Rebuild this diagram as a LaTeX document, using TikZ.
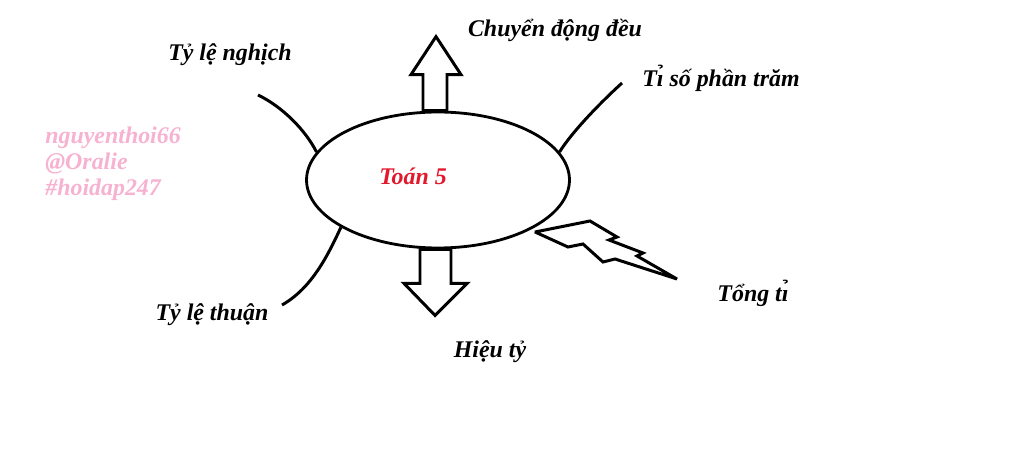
\documentclass[tikz,border=0pt]{standalone}
\usepackage{fontspec}
\setmainfont{Liberation Serif}
\usetikzlibrary{shapes,positioning,calc}
\definecolor{mark}{RGB}{246,178,208}
\definecolor{toanred}{RGB}{226,24,44}
\newcommand{\ihook}{ı\char"0309 }

\begin{document}
\begin{tikzpicture}[x=0.02cm,y=-0.02cm,
		lbl/.style={font=\fontsize{13.6}{15}\selectfont\bfseries\itshape},
		branch/.style={line width=1.7pt},
		block/.style={draw,line width=1.7pt,fill=white,line join=miter}]
	\useasboundingbox (0,0) rectangle (1024,462);

	\node[draw,
		ellipse,
		line width=1.6pt,
		minimum width=5.26cm,
		minimum height=2.72cm,
		inner sep=0pt
	] (toan) at (438,180) {};
	\node[lbl,text=toanred] (title) at (413,176) {Toán 5};

	% labels
	\node[lbl] (deu) at (555,30) {Chuyển động đều};
	\node[lbl] (phantram) at (721,78) {T\ihook{} số phần trăm};
	\node[lbl] (nghich) at (230,55) {Tỷ lệ nghịch};
	\node[lbl] (thuan) at (212,315) {Tỷ lệ thuận};
	\node[lbl] (hieu) at (490,352) {Hiệu tỷ};
	\node[lbl] (tong) at (753,293) {Tổng t\ihook};

	\node[font=\fontsize{13.6}{14.8}\selectfont\bfseries\itshape,
		text=mark,
		anchor=west,
		align=left,
		inner sep=0pt
	] (wm) at (45,164) {nguyenthoi66\\@Oralie\\\#hoidap247};

	% branches
	\coordinate (endnghich) at (258,95);
	\coordinate (endthuan) at (282,305);
	\coordinate (endphantram) at (622,83);
	\draw[branch] (toan.167) .. controls (306,131) and (283,107) .. (endnghich);
	\draw[branch] (toan.206) .. controls (328,255) and (312,288) .. (endthuan);
	\draw[branch] (toan.13) .. controls (572,132) and (600,103) .. (endphantram);

	% block arrows
	\draw[block,shift={(toan.north)}] (-15,0) -- (-15,-36) -- (-27,-36) -- (-2,-74)
		-- (23,-36) -- (9,-36) -- (9,0) -- cycle;
	\draw[block,shift={(toan.south)}] (-18,0) -- (-18,34) -- (-34,34) -- (-3,66)
		-- (29,34) -- (13,34) -- (13,0) -- cycle;

	% lightning
	\draw[block,miter limit=3] (535,232) -- (590,221) -- (617,237) -- (609,240) -- (643,253)
		-- (637,256) -- (677,279) -- (615,259) -- (603,262) -- (583,244)
		-- (568,247) -- cycle;

\end{tikzpicture}
\end{document}
